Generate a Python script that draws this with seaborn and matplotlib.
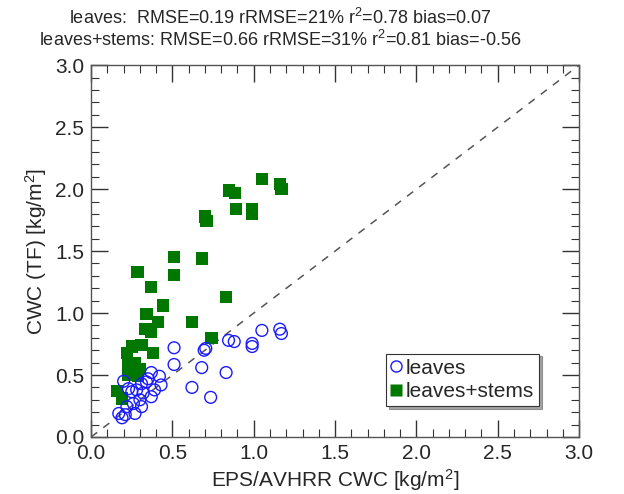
import matplotlib
matplotlib.use("Agg")
import matplotlib.pyplot as plt
from matplotlib.lines import Line2D
from matplotlib.ticker import MultipleLocator
import seaborn as sns
import pandas as pd

# EPS/AVHRR canopy water content vs. field measurements (kg/m^2)
leaves_x = [1.05, 1.16, 1.17, 0.845, 0.88, 0.99, 0.99, 0.705, 0.695, 0.51,
            0.51, 0.68, 0.83, 0.62, 0.735, 0.37, 0.42, 0.35, 0.43, 0.31,
            0.39, 0.28, 0.32, 0.25, 0.37, 0.30, 0.26, 0.31, 0.22, 0.27,
            0.21, 0.17, 0.23, 0.20, 0.34, 0.19]
leaves_y = [0.86, 0.87, 0.835, 0.78, 0.77, 0.755, 0.73, 0.715, 0.70, 0.72,
            0.585, 0.56, 0.52, 0.40, 0.32, 0.52, 0.49, 0.47, 0.42, 0.43,
            0.38, 0.38, 0.355, 0.365, 0.325, 0.30, 0.27, 0.245, 0.245, 0.19,
            0.18, 0.19, 0.39, 0.45, 0.445, 0.155]

stems_x = [1.05, 1.16, 1.17, 0.85, 0.885, 0.89, 0.99, 0.99, 0.70, 0.71,
           0.51, 0.68, 0.285, 0.51, 0.37, 0.83, 0.44, 0.34, 0.41, 0.62,
           0.335, 0.37, 0.74, 0.25, 0.31, 0.22, 0.38, 0.23, 0.27, 0.30,
           0.23, 0.23, 0.29, 0.16, 0.19]
stems_y = [2.08, 2.04, 2.00, 1.99, 1.97, 1.84, 1.84, 1.80, 1.78, 1.74,
           1.45, 1.44, 1.33, 1.31, 1.21, 1.13, 1.06, 0.99, 0.925, 0.925,
           0.87, 0.845, 0.80, 0.73, 0.74, 0.675, 0.68, 0.60, 0.60, 0.55,
           0.55, 0.50, 0.49, 0.37, 0.31]

series_labels = ["leaves", "leaves+stems"]
title_lines = [
    r"leaves:  RMSE=0.19 rRMSE=21% r$^2$=0.78 bias=0.07",
    r"leaves+stems: RMSE=0.66 rRMSE=31% r$^2$=0.81 bias=-0.56",
]

sns.set_style("ticks")
plt.rcParams["font.family"] = ["Liberation Sans", "DejaVu Sans"]
plt.rcParams["mathtext.fontset"] = "custom"
plt.rcParams["mathtext.rm"] = "Liberation Sans"
plt.rcParams["mathtext.it"] = "Liberation Sans"

df_l = pd.DataFrame({"x": leaves_x, "y": leaves_y})
df_s = pd.DataFrame({"x": stems_x, "y": stems_y})

fig = plt.figure(figsize=(6.24, 4.94), dpi=100)
ax = fig.add_axes([0.146, 0.1154, 0.782, 0.7526])

# 1:1 reference line
ax.plot([0, 3], [0, 3], ls=(0, (5, 5)), color="#555555", lw=1.1, zorder=1)

sns.scatterplot(data=df_s, x="x", y="y", ax=ax, marker="s", s=78,
                color="#007800", edgecolor="none", linewidth=0, zorder=2)
sns.scatterplot(data=df_l, x="x", y="y", ax=ax, marker="o", s=72,
                facecolors="none", edgecolor="#1a1aff", linewidth=1.0, zorder=3)

ax.set_xlim(0, 3)
ax.set_ylim(0, 3)
ax.xaxis.set_major_locator(MultipleLocator(0.5))
ax.yaxis.set_major_locator(MultipleLocator(0.5))
ax.xaxis.set_minor_locator(MultipleLocator(0.1))
ax.yaxis.set_minor_locator(MultipleLocator(0.1))
ax.xaxis.set_major_formatter(plt.FormatStrFormatter("%.1f"))
ax.yaxis.set_major_formatter(plt.FormatStrFormatter("%.1f"))
ax.tick_params(which="both", direction="in", top=True, right=True,
               color="#333333", labelsize=15)
ax.tick_params(which="major", length=12, width=1.0, pad=5)
ax.tick_params(which="minor", length=6, width=0.8)
for sp in ax.spines.values():
    sp.set_color("#555555")
    sp.set_linewidth(1.0)

ax.set_xlabel(r"EPS/AVHRR CWC [kg/m$^2$]", fontsize=15, labelpad=3)
ax.set_ylabel(r"CWC (TF) [kg/m$^2$]", fontsize=15, labelpad=4)

# two-line statistics header
fig.text(0.449, 0.964, title_lines[0], ha="center", va="center", fontsize=13)
fig.text(0.449, 0.919, title_lines[1], ha="center", va="center", fontsize=13)

handles = [
    Line2D([], [], marker="o", ls="none", mfc="none", mec="#1a1aff",
           mew=1.0, ms=8),
    Line2D([], [], marker="s", ls="none", mfc="#007800", mec="none", ms=8),
]
leg = ax.legend(handles, series_labels, loc="lower right",
                bbox_to_anchor=(0.918, 0.083), fontsize=15, frameon=True,
                fancybox=False, shadow=True, handlelength=0.5,
                handletextpad=0.2, borderpad=0.25, labelspacing=0.2,
                borderaxespad=0)
leg.get_frame().set_edgecolor("#333333")
leg.get_frame().set_linewidth(0.8)

fig.savefig("out.png", dpi=100)
